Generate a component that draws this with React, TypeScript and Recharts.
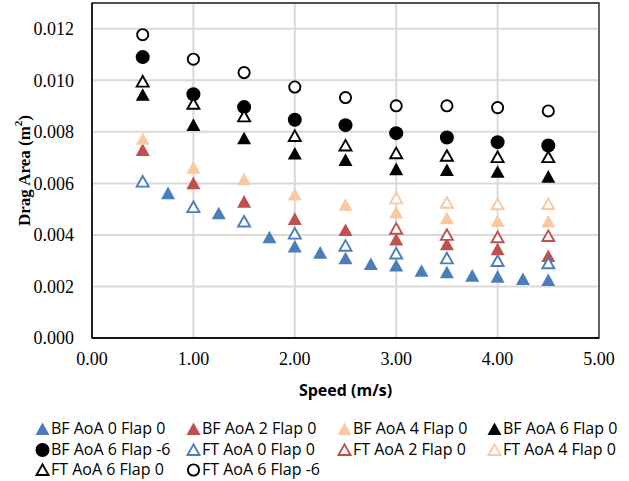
import { ScatterChart, Scatter, XAxis, YAxis, CartesianGrid, ReferenceArea, Label } from "recharts";

// speeds (m/s) used by most runs
const SPEEDS = [0.5, 1, 1.5, 2, 2.5, 3, 3.5, 4, 4.5];
// BF AoA 0 was measured on a finer step
const SPEEDS_BF0 = [0.75, 1.25, 1.75, 2, 2.25, 2.5, 2.75, 3, 3.25, 3.5, 3.75, 4, 4.25, 4.5];
// FT AoA 2 / 4 only at the higher speeds
const SPEEDS_HIGH = [3, 3.5, 4, 4.5];

const BF_AOA0 = [0.00562, 0.00484, 0.00391, 0.00355, 0.00331, 0.00309, 0.00287, 0.00281, 0.00261, 0.00255, 0.00242, 0.00238, 0.00229, 0.00225];
const BF_AOA2 = [0.0073, 0.00601, 0.00529, 0.00462, 0.00419, 0.00382, 0.00364, 0.00344, 0.00318];
const BF_AOA4 = [0.00773, 0.00661, 0.00616, 0.00557, 0.00517, 0.00487, 0.00465, 0.00454, 0.00452];
const BF_AOA6 = [0.00944, 0.00827, 0.00775, 0.00716, 0.00691, 0.00655, 0.00652, 0.00645, 0.00626];
const BF_AOA6_FLAP6 = [0.0109, 0.00946, 0.00896, 0.00847, 0.00826, 0.00795, 0.00778, 0.0076, 0.00747];
const FT_AOA0 = [0.00607, 0.00508, 0.00452, 0.00405, 0.00358, 0.00328, 0.00309, 0.00299, 0.0029];
const FT_AOA2 = [0.00424, 0.004, 0.00391, 0.00396];
const FT_AOA4 = [0.00542, 0.00525, 0.00519, 0.0052];
const FT_AOA6 = [0.00995, 0.00909, 0.0086, 0.00784, 0.00747, 0.00717, 0.00707, 0.00702, 0.00702];
const FT_AOA6_FLAP6 = [0.01177, 0.01082, 0.0103, 0.00974, 0.00933, 0.00901, 0.00901, 0.00894, 0.00881];

const X_TICKS = [0, 1, 2, 3, 4, 5];
const Y_TICKS = [0, 0.002, 0.004, 0.006, 0.008, 0.01, 0.012];

const BLUE = "#4a7ebb";
const RED = "#c0504d";
const PEACH = "#f9c9a3";
const BLACK = "#000000";

type Marker = "tri" | "circle";

type SeriesDef = {
  name: string;
  xs: number[];
  ys: number[];
  color: string;
  marker: Marker;
  open: boolean;
};

const SERIES: SeriesDef[] = [
  { name: "BF AoA 0 Flap 0", xs: SPEEDS_BF0, ys: BF_AOA0, color: BLUE, marker: "tri", open: false },
  { name: "BF AoA 2 Flap 0", xs: SPEEDS, ys: BF_AOA2, color: RED, marker: "tri", open: false },
  { name: "BF AoA 4 Flap 0", xs: SPEEDS, ys: BF_AOA4, color: PEACH, marker: "tri", open: false },
  { name: "BF AoA 6 Flap 0", xs: SPEEDS, ys: BF_AOA6, color: BLACK, marker: "tri", open: false },
  { name: "BF AoA 6 Flap -6", xs: SPEEDS, ys: BF_AOA6_FLAP6, color: BLACK, marker: "circle", open: false },
  { name: "FT AoA 0 Flap 0", xs: SPEEDS, ys: FT_AOA0, color: BLUE, marker: "tri", open: true },
  { name: "FT AoA 2 Flap 0", xs: SPEEDS_HIGH, ys: FT_AOA2, color: RED, marker: "tri", open: true },
  { name: "FT AoA 4 Flap 0", xs: SPEEDS_HIGH, ys: FT_AOA4, color: PEACH, marker: "tri", open: true },
  { name: "FT AoA 6 Flap 0", xs: SPEEDS, ys: FT_AOA6, color: BLACK, marker: "tri", open: true },
  { name: "FT AoA 6 Flap -6", xs: SPEEDS, ys: FT_AOA6_FLAP6, color: BLACK, marker: "circle", open: true },
];

const SERIF = "'Liberation Serif', 'Times New Roman', serif";
const SANS = "'Open Sans', 'Liberation Sans', sans-serif";

function MarkerGlyph({ cx, cy, marker, open, color }: { cx: number; cy: number; marker: Marker; open: boolean; color: string }) {
  if (marker === "circle") {
    return open ? (
      <circle cx={cx} cy={cy} r={5.6} fill="#fff" stroke={color} strokeWidth={1.9} />
    ) : (
      <circle cx={cx} cy={cy} r={7} fill={color} />
    );
  }
  if (open) {
    const pts = `${cx},${cy - 5.6} ${cx - 6},${cy + 5} ${cx + 6},${cy + 5}`;
    return <polygon points={pts} fill="#fff" stroke={color} strokeWidth={1.9} strokeLinejoin="miter" />;
  }
  const pts = `${cx},${cy - 6.6} ${cx - 7},${cy + 6} ${cx + 7},${cy + 6}`;
  return <polygon points={pts} fill={color} />;
}

const makeShape = (s: SeriesDef) => (props: any) => {
  if (props.cx == null || props.cy == null) return <g />;
  return <MarkerGlyph cx={props.cx} cy={props.cy} marker={s.marker} open={s.open} color={s.color} />;
};

const XTitle = (props: any) => {
  const vb = props.viewBox;
  return (
    <text x={vb.x + vb.width / 2} y={vb.y + 58} textAnchor="middle" fontFamily={SANS} fontWeight="bold" fontSize={16} fill="#000">
      Speed (m/s)
    </text>
  );
};

const YTitle = (props: any) => {
  const vb = props.viewBox;
  const cx = 24;
  const cy = vb.y + vb.height / 2;
  return (
    <text x={cx} y={cy} transform={`rotate(-90, ${cx}, ${cy})`} textAnchor="middle" dominantBaseline="central" fontFamily={SERIF} fontWeight="bold" fontSize={17} fill="#000">
      Drag Area (m
      <tspan dy={-6} fontSize={11}>2</tspan>
      <tspan dy={6}>)</tspan>
    </text>
  );
};

const LEGEND_COLS = [35, 186, 337, 487];
const LEGEND_ROWS = [428, 449, 469];

function LegendIcon({ s }: { s: SeriesDef }) {
  return (
    <svg width={15} height={15} style={{ position: "absolute", left: 0, top: -7.5 }}>
      <MarkerGlyph cx={7.5} cy={8} marker={s.marker} open={s.open} color={s.color} />
    </svg>
  );
}

export default function App() {
  return (
    <div style={{ position: "absolute", left: 0, top: 0, width: 629, height: 481, background: "#fff" }}>
      <ScatterChart width={629} height={481} margin={{ top: 3, right: 30, bottom: 113, left: 0 }}>
        <CartesianGrid stroke="#d9d9d9" strokeWidth={2} />
        <XAxis
          type="number"
          dataKey="x"
          domain={[0, 5]}
          ticks={X_TICKS}
          height={30}
          tickSize={0}
          tickMargin={14}
          axisLine={{ stroke: "#000", strokeWidth: 1.3 }}
          tick={{ fill: "#000", fontSize: 18, fontFamily: SERIF }}
          tickFormatter={(v: number) => v.toFixed(2)}
        >
          <Label content={XTitle} />
        </XAxis>
        <YAxis
          type="number"
          dataKey="y"
          domain={[0, 0.013]}
          ticks={Y_TICKS}
          width={92}
          tickSize={0}
          tickMargin={18}
          axisLine={{ stroke: "#000", strokeWidth: 1.3 }}
          tick={{ fill: "#000", fontSize: 18, fontFamily: SERIF }}
          tickFormatter={(v: number) => v.toFixed(3)}
        >
          <Label content={YTitle} />
        </YAxis>
        <ReferenceArea x1={0} x2={5} y1={0} y2={0.013} fill="none" stroke="#222" strokeWidth={1.3} />
        {SERIES.map((s) => (
          <Scatter
            key={s.name}
            name={s.name}
            data={s.xs.map((x, i) => ({ x, y: s.ys[i] }))}
            shape={makeShape(s)}
            isAnimationActive={false}
          />
        ))}
      </ScatterChart>
      {SERIES.map((s, i) => (
        <div
          key={s.name}
          style={{
            position: "absolute",
            left: LEGEND_COLS[i % 4],
            top: LEGEND_ROWS[Math.floor(i / 4)],
            height: 0,
            fontFamily: SANS,
            fontSize: 16,
            color: "#000",
            whiteSpace: "nowrap",
          }}
        >
          <LegendIcon s={s} />
          <span style={{ position: "absolute", left: 16, top: 0, transform: "translateY(-50%)", lineHeight: "20px" }}>
            {s.name}
          </span>
        </div>
      ))}
    </div>
  );
}
